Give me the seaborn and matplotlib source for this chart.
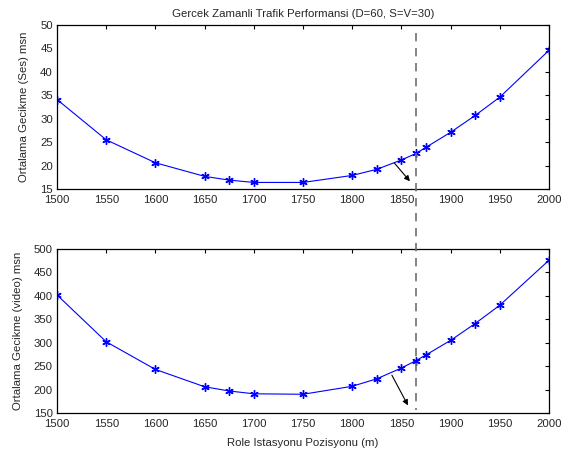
import numpy as np
import pandas as pd
import matplotlib
matplotlib.use("Agg")
import matplotlib.pyplot as plt
import matplotlib.transforms as mtransforms
from matplotlib.lines import Line2D
import seaborn as sns

# === Data ===
positions = [1500, 1550, 1600, 1650, 1675, 1700, 1750, 1800, 1825, 1850, 1865, 1875, 1900, 1925, 1950, 2000]
delay_ses = [34.1, 25.5, 20.6, 17.7, 16.9, 16.4, 16.4, 17.9, 19.2, 21.2, 22.6, 23.9, 27.1, 30.7, 34.6, 44.6]
delay_video = [402, 302, 243, 206, 197, 191, 190, 207, 223, 246, 262, 274, 305, 341, 380, 476]
x_ticks = [1500, 1550, 1600, 1650, 1700, 1750, 1800, 1850, 1900, 1950, 2000]
optimum = 1865

df = pd.DataFrame({"pos": positions, "ses": delay_ses, "video": delay_video})

sns.set_style("white")
plt.rcParams["font.family"] = ["Liberation Sans", "DejaVu Sans"]
plt.rcParams["font.size"] = 8.2
plt.rcParams["xtick.direction"] = "in"
plt.rcParams["ytick.direction"] = "in"
plt.rcParams["xtick.top"] = True
plt.rcParams["ytick.right"] = True

fs = 8.2
fig = plt.figure(figsize=(5.68, 4.55), dpi=100)
ax1 = fig.add_axes([0.1004, 0.5846, 0.8661, 0.3604])
ax2 = fig.add_axes([0.1004, 0.0923, 0.8661, 0.3604])

star = (6, 2, 0)
for ax, col in [(ax1, "ses"), (ax2, "video")]:
    sns.lineplot(data=df, x="pos", y=col, ax=ax, color="#0000ff", lw=0.8,
                 marker=star, markersize=6, markeredgecolor="#0000ff",
                 markeredgewidth=1.0)
    ax.set_xlim(1500, 2000)
    ax.set_xticks(x_ticks)
    for s in ax.spines.values():
        s.set_color("black")
        s.set_linewidth(0.9)
    ax.tick_params(length=3, width=0.8, color="black", labelsize=fs, pad=3,
                   top=True, right=True)
    ax.tick_params(axis="x", pad=4)

ax1.set_ylim(15, 50)
ax1.set_yticks([15, 20, 25, 30, 35, 40, 45, 50])
ax1.set_xlabel("")
ax1.set_ylabel("Ortalama Gecikme (Ses) msn", fontsize=fs, labelpad=8)
ax1.set_title("Gercek Zamanli Trafik Performansi (D=60, S=V=30)", fontsize=fs, pad=6)

ax2.set_ylim(150, 500)
ax2.set_yticks([150, 200, 250, 300, 350, 400, 450, 500])
ax2.set_xlabel("Role Istasyonu Pozisyonu (m)", fontsize=fs, labelpad=7)
ax2.set_ylabel("Ortalama Gecikme (video) msn", fontsize=fs, labelpad=8)

# arrows pointing at the optimum position
arrow = dict(arrowstyle="-|>", color="black", lw=0.8, mutation_scale=8)
ax1.annotate("", xy=(1860.5, 16.2), xytext=(1841, 21.0), arrowprops=arrow)
ax2.annotate("", xy=(1858, 161), xytext=(1839, 236), arrowprops=arrow)

# dashed vertical line across both panels
trans = mtransforms.blended_transform_factory(ax1.transData, fig.transFigure)
fig.lines.append(Line2D([optimum, optimum], [1 - 33 / 455, 1 - 410 / 455],
                        transform=trans, color="#707070", lw=1.2,
                        dashes=(5, 4), figure=fig))

fig.savefig("out.png", dpi=100)
